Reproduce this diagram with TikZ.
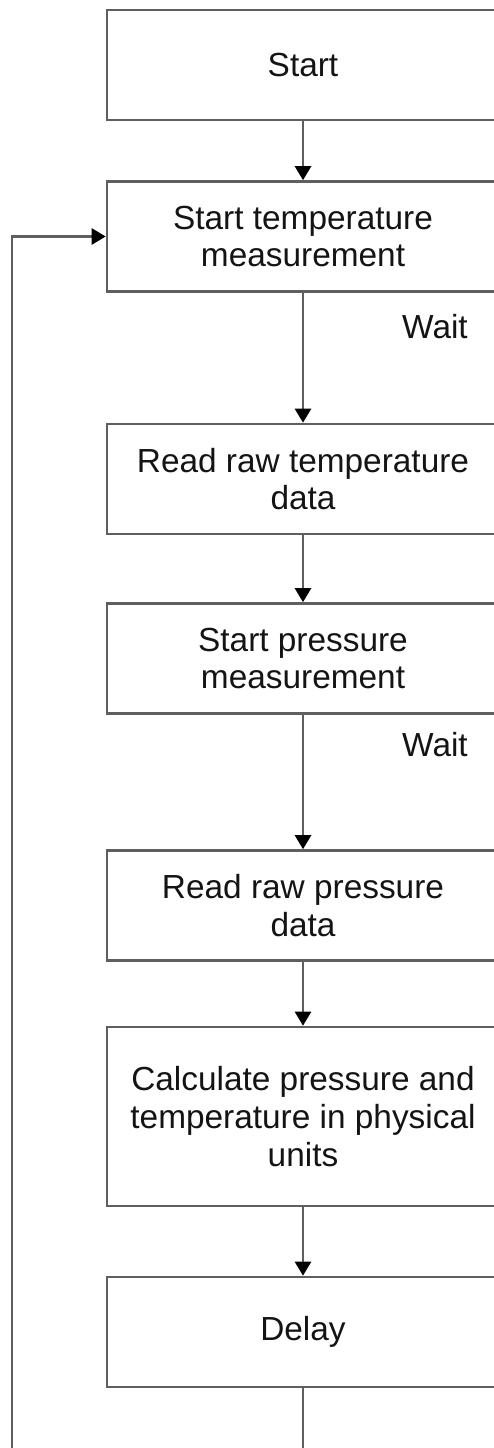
\documentclass[tikz,border=0pt]{standalone}
\usepackage{fontspec}
\setmainfont{Liberation Sans}
\usetikzlibrary{arrows.meta}
\definecolor{linegray}{RGB}{95,95,95}
\definecolor{textgray}{RGB}{20,20,20}
\begin{document}
\begin{tikzpicture}[
    box/.style={rectangle, draw=linegray, line width=1.5pt, minimum width=7.84cm, minimum height=2.2cm, align=center, text=textgray, font=\fontsize{19}{21.5}\selectfont},
    flow/.style={draw=linegray, line width=1.5pt, -{Triangle[width=0.32cm,length=0.28cm,color=black,fill=black]}},
    note/.style={text=textgray, font=\fontsize{19}{21.5}\selectfont}
]
        \useasboundingbox (0,0) rectangle (9.88,-28.96);

        % Nodes at fixed positions, boxes run past the right border
        \node (1) [box] at (6.06, -1.30) {Start};
        \node (2) [box] at (6.06, -4.73) {Start temperature\\measurement};
        \node (3) [box] at (6.06, -9.58) {Read raw temperature\\data};
        \node (4) [box] at (6.06, -13.17) {Start pressure\\measurement};
        \node (5) [box] at (6.06, -18.11) {Read raw pressure\\data};
        \node (6) [box, minimum height=3.58cm] at (6.06, -22.33) {Calculate pressure and\\temperature in physical\\units};
        \node (7) [box] at (6.06, -26.64) {Delay};

        % Labels
        \node (w1) [note] at (8.70, -6.54) {Wait};
        \node (w2) [note] at (8.70, -14.90) {Wait};

        % Loop ends at the lower border
        \coordinate (a) at (6.06, -28.96);
        \coordinate (b) at (0.24, -28.96);

        % Edges
        \draw[flow] (1) -- (2);
        \draw[flow] (2) -- (3);
        \draw[flow] (3) -- (4);
        \draw[flow] (4) -- (5);
        \draw[flow] (5) -- (6);
        \draw[flow] (6) -- (7);
        \draw[draw=linegray, line width=1.5pt] (7) -- (a);
        \draw[flow] (b) |- (2);

    \end{tikzpicture}
\end{document}
